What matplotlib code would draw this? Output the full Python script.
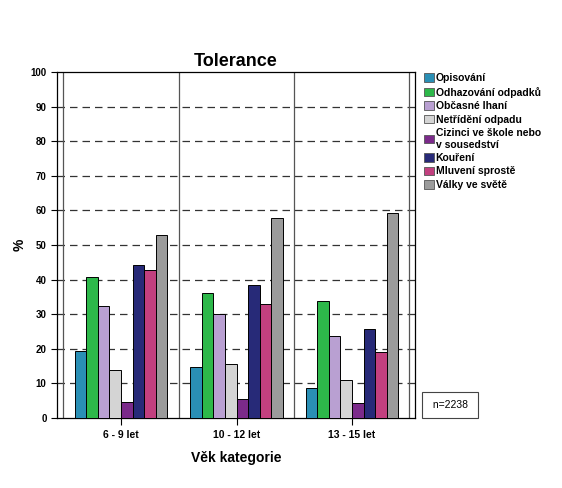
import numpy as np
import matplotlib.pyplot as plt
from matplotlib.patches import Patch

plt.rcParams['font.family'] = ['Liberation Sans', 'DejaVu Sans']

groups = ['6 - 9 let', '10 - 12 let', '13 - 15 let']
series = ['Opisování', 'Odhazování odpadků', 'Občasné lhaní', 'Netřídění odpadu',
          'Cizinci ve škole nebo\nv sousedství', 'Kouření', 'Mluvení sprostě', 'Války ve světě']
colors = ['#2a8fb5', '#2db84a', '#b9a0d2', '#d4d4d4', '#7b2a8a', '#272a78', '#c2407f', '#9b9b9b']

opisovani = [19.4, 14.8, 8.7]
odhazovani = [40.7, 36.2, 33.9]
lhani = [32.3, 30.0, 23.7]
netrideni = [14.0, 15.5, 11.0]
cizinci = [4.7, 5.5, 4.3]
koureni = [44.1, 38.5, 25.6]
mluveni = [42.9, 33.0, 19.2]
valky = [52.8, 57.9, 59.2]
values = [opisovani, odhazovani, lhani, netrideni, cizinci, koureni, mluveni, valky]

fig = plt.figure(figsize=(5.62, 4.88), dpi=100)
ax = fig.add_axes([57 / 562, 70 / 488, 358 / 562, 346 / 488])

x = np.arange(len(groups))
w = 0.1
for i, (vals, c) in enumerate(zip(values, colors)):
    ax.bar(x + (i - 3.5) * w, vals, width=w, color=c, edgecolor='black', linewidth=0.7, zorder=3)

ax.set_xlim(-0.554, 2.545)
ax.set_ylim(0, 100)
ax.set_yticks(range(0, 101, 10))
for y in range(10, 100, 10):
    ax.axhline(y, color='#333333', linestyle=(0, (6, 4)), linewidth=0.9, zorder=1)
for xv in [-0.5, 0.5, 1.5, 2.49]:
    ax.axvline(xv, color='#555555', linewidth=0.9, zorder=2)

ax.set_xticks(x)
ax.set_xticklabels(groups, fontsize=7.5, fontweight='bold')
ax.tick_params(axis='x', length=5, width=0.8)
ax.tick_params(axis='y', length=4, width=0.8, labelsize=7)
for lab in ax.get_yticklabels():
    lab.set_fontweight('bold')
for s in ax.spines.values():
    s.set_linewidth(0.9)

ax.set_title('Tolerance', fontsize=13, fontweight='bold', pad=4)
ax.set_xlabel('Věk kategorie', fontsize=10, fontweight='bold', labelpad=8)
ax.set_ylabel('%', fontsize=10, fontweight='bold')
ax.yaxis.set_label_coords(-0.085, 0.5)

handles = [Patch(facecolor=c, edgecolor='#555555', linewidth=0.6) for c in colors]
fig.legend(handles, series, loc='upper left', bbox_to_anchor=(417 / 562, 1 - 66 / 488),
           frameon=False, handlelength=0.9, handleheight=0.9,
           handletextpad=0.2, labelspacing=0.33, borderpad=0.2,
           prop={'weight': 'bold', 'size': 7.5})

fig.text(450 / 562, 1 - 405 / 488, ' n=2238 ', fontsize=7.5, ha='center', va='center',
         bbox=dict(boxstyle='square,pad=0.75', facecolor='white', edgecolor='#444444', linewidth=0.8))

fig.savefig('out.png', dpi=100)
